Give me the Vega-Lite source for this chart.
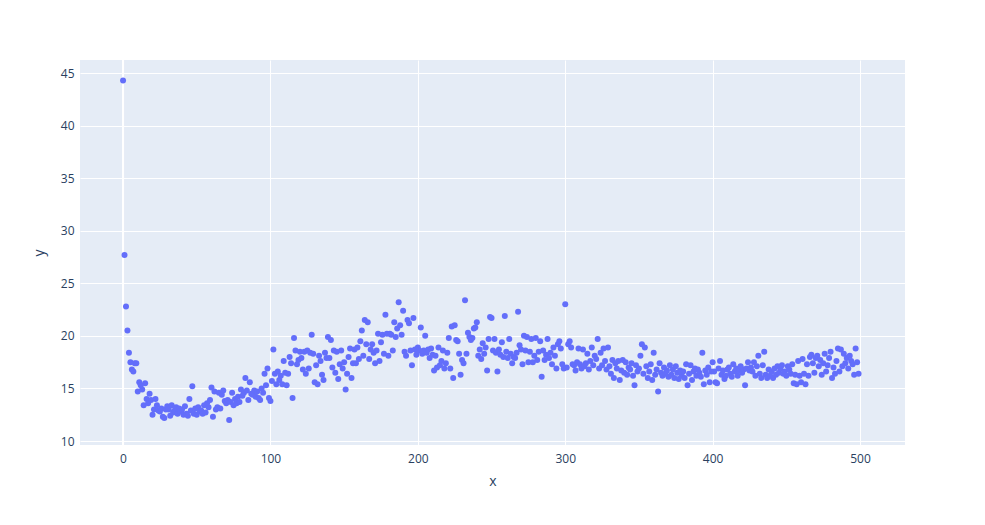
{
"$schema": "https://vega.github.io/schema/vega-lite/v6.json",
"width": 825, "height": 385,
"autosize": {"type": "none"},
"padding": {"left": 80, "top": 60, "right": 80, "bottom": 80},
"background": "white",
"config": {"view": {"fill": "#E5ECF6", "stroke": null}, "font": "Open Sans",
  "axis": {"domain": false, "ticks": false, "grid": true, "gridColor": "white", "gridWidth": 1, "labelColor": "#2a3f5f", "labelFontSize": 12, "titleColor": "#2a3f5f", "titleFontSize": 14, "titleFontWeight": "normal", "labelFont": "Open Sans", "titleFont": "Open Sans"}},
"data": {"values": [
{"x":0,"y":44.3},{"x":1,"y":27.7},{"x":2,"y":22.8},{"x":3,"y":20.5},{"x":4,"y":18.4},{"x":5,"y":17.5},{"x":6,"y":16.8},{"x":7,"y":16.6},{"x":8,"y":17.4},{"x":9,"y":17.4},
{"x":10,"y":14.7},{"x":11,"y":15.6},{"x":12,"y":15.3},{"x":13,"y":14.9},{"x":14,"y":13.4},{"x":15,"y":15.5},{"x":16,"y":14.0},{"x":17,"y":13.6},{"x":18,"y":14.5},{"x":19,"y":13.9},
{"x":20,"y":12.5},{"x":21,"y":13.0},{"x":22,"y":14.0},{"x":23,"y":13.4},{"x":24,"y":12.9},{"x":25,"y":12.8},{"x":26,"y":13.1},{"x":27,"y":12.3},{"x":28,"y":12.2},{"x":29,"y":13.0},
{"x":30,"y":13.3},{"x":31,"y":13.0},{"x":32,"y":12.4},{"x":33,"y":13.4},{"x":34,"y":12.7},{"x":35,"y":12.9},{"x":36,"y":13.2},{"x":37,"y":12.6},{"x":38,"y":13.1},{"x":39,"y":12.8},
{"x":40,"y":13.0},{"x":41,"y":12.5},{"x":42,"y":13.3},{"x":43,"y":12.6},{"x":44,"y":12.4},{"x":45,"y":14.0},{"x":46,"y":12.9},{"x":47,"y":15.2},{"x":48,"y":12.6},{"x":49,"y":13.1},
{"x":50,"y":12.5},{"x":51,"y":13.2},{"x":52,"y":12.8},{"x":53,"y":12.9},{"x":54,"y":12.6},{"x":55,"y":13.4},{"x":56,"y":12.7},{"x":57,"y":13.6},{"x":58,"y":13.2},{"x":59,"y":13.9},
{"x":60,"y":15.1},{"x":61,"y":12.3},{"x":62,"y":14.7},{"x":63,"y":13.0},{"x":64,"y":13.2},{"x":65,"y":14.6},{"x":66,"y":13.1},{"x":67,"y":14.4},{"x":68,"y":14.8},{"x":69,"y":13.8},
{"x":70,"y":13.6},{"x":71,"y":13.9},{"x":72,"y":12.0},{"x":73,"y":13.7},{"x":74,"y":14.6},{"x":75,"y":13.4},{"x":76,"y":14.0},{"x":77,"y":13.6},{"x":78,"y":14.2},{"x":79,"y":13.7},
{"x":80,"y":14.9},{"x":81,"y":14.3},{"x":82,"y":14.6},{"x":83,"y":16.0},{"x":84,"y":14.8},{"x":85,"y":13.9},{"x":86,"y":15.6},{"x":87,"y":14.5},{"x":88,"y":14.4},{"x":89,"y":14.8},
{"x":90,"y":14.2},{"x":91,"y":14.7},{"x":92,"y":14.1},{"x":93,"y":13.9},{"x":94,"y":15.0},{"x":95,"y":14.6},{"x":96,"y":16.4},{"x":97,"y":15.3},{"x":98,"y":16.9},{"x":99,"y":14.1},
{"x":100,"y":13.8},{"x":101,"y":15.7},{"x":102,"y":18.7},{"x":103,"y":16.4},{"x":104,"y":15.4},{"x":105,"y":16.6},{"x":106,"y":15.8},{"x":107,"y":16.2},{"x":108,"y":15.4},{"x":109,"y":17.6},
{"x":110,"y":16.5},{"x":111,"y":15.3},{"x":112,"y":16.4},{"x":113,"y":18.0},{"x":114,"y":17.4},{"x":115,"y":14.1},{"x":116,"y":19.8},{"x":117,"y":18.6},{"x":118,"y":17.3},{"x":119,"y":17.7},
{"x":120,"y":18.5},{"x":121,"y":17.9},{"x":122,"y":16.8},{"x":123,"y":18.5},{"x":124,"y":16.4},{"x":125,"y":18.6},{"x":126,"y":16.9},{"x":127,"y":18.4},{"x":128,"y":20.1},{"x":129,"y":18.3},
{"x":130,"y":15.6},{"x":131,"y":17.2},{"x":132,"y":15.4},{"x":133,"y":18.1},{"x":134,"y":17.6},{"x":135,"y":16.3},{"x":136,"y":15.8},{"x":137,"y":18.4},{"x":138,"y":17.9},{"x":139,"y":19.9},
{"x":140,"y":17.9},{"x":141,"y":19.6},{"x":142,"y":17.0},{"x":143,"y":18.6},{"x":144,"y":16.5},{"x":145,"y":18.5},{"x":146,"y":15.9},{"x":147,"y":17.3},{"x":148,"y":18.6},{"x":149,"y":16.9},
{"x":150,"y":17.5},{"x":151,"y":14.9},{"x":152,"y":16.4},{"x":153,"y":18.0},{"x":154,"y":18.8},{"x":155,"y":16.0},{"x":156,"y":17.4},{"x":157,"y":18.7},{"x":158,"y":17.4},{"x":159,"y":18.9},
{"x":160,"y":17.8},{"x":161,"y":19.5},{"x":162,"y":20.5},{"x":163,"y":18.1},{"x":164,"y":21.5},{"x":165,"y":19.2},{"x":166,"y":21.3},{"x":167,"y":17.8},{"x":168,"y":18.7},{"x":169,"y":19.2},
{"x":170,"y":18.4},{"x":171,"y":17.4},{"x":172,"y":18.6},{"x":173,"y":20.2},{"x":174,"y":17.6},{"x":175,"y":19.4},{"x":176,"y":20.1},{"x":177,"y":18.3},{"x":178,"y":22.0},{"x":179,"y":20.2},
{"x":180,"y":18.1},{"x":181,"y":20.2},{"x":182,"y":20.1},{"x":183,"y":18.6},{"x":184,"y":21.3},{"x":185,"y":19.9},{"x":186,"y":20.7},{"x":187,"y":23.2},{"x":188,"y":21.0},{"x":189,"y":20.1},
{"x":190,"y":22.4},{"x":191,"y":18.5},{"x":192,"y":18.1},{"x":193,"y":21.5},{"x":194,"y":21.2},{"x":195,"y":18.6},{"x":196,"y":17.2},{"x":197,"y":21.7},{"x":198,"y":18.7},{"x":199,"y":18.2},
{"x":200,"y":18.9},{"x":201,"y":18.6},{"x":202,"y":20.8},{"x":203,"y":18.3},{"x":204,"y":18.6},{"x":205,"y":20.0},{"x":206,"y":18.4},{"x":207,"y":18.7},{"x":208,"y":17.9},{"x":209,"y":18.8},
{"x":210,"y":18.2},{"x":211,"y":16.7},{"x":212,"y":18.1},{"x":213,"y":17.0},{"x":214,"y":18.9},{"x":215,"y":17.2},{"x":216,"y":17.6},{"x":217,"y":18.6},{"x":218,"y":16.9},{"x":219,"y":17.4},
{"x":220,"y":18.4},{"x":221,"y":19.8},{"x":222,"y":16.9},{"x":223,"y":20.9},{"x":224,"y":16.0},{"x":225,"y":21.0},{"x":226,"y":19.6},{"x":227,"y":19.5},{"x":228,"y":18.3},{"x":229,"y":16.3},
{"x":230,"y":17.7},{"x":231,"y":17.4},{"x":232,"y":23.4},{"x":233,"y":18.3},{"x":234,"y":20.3},{"x":235,"y":19.9},{"x":236,"y":19.6},{"x":237,"y":19.8},{"x":238,"y":20.7},{"x":239,"y":20.8},
{"x":240,"y":21.3},{"x":241,"y":18.1},{"x":242,"y":18.7},{"x":243,"y":17.8},{"x":244,"y":19.3},{"x":245,"y":18.3},{"x":246,"y":18.9},{"x":247,"y":16.7},{"x":248,"y":19.7},{"x":249,"y":21.8},
{"x":250,"y":21.7},{"x":251,"y":18.6},{"x":252,"y":19.7},{"x":253,"y":18.4},{"x":254,"y":16.6},{"x":255,"y":18.7},{"x":256,"y":18.2},{"x":257,"y":19.4},{"x":258,"y":18.0},{"x":259,"y":21.9},
{"x":260,"y":18.5},{"x":261,"y":17.9},{"x":262,"y":19.7},{"x":263,"y":18.3},{"x":264,"y":17.4},{"x":265,"y":18.0},{"x":266,"y":17.9},{"x":267,"y":18.4},{"x":268,"y":22.3},{"x":269,"y":19.1},
{"x":270,"y":18.7},{"x":271,"y":17.3},{"x":272,"y":20.0},{"x":273,"y":18.6},{"x":274,"y":19.9},{"x":275,"y":17.5},{"x":276,"y":18.5},{"x":277,"y":19.7},{"x":278,"y":17.5},{"x":279,"y":18.1},
{"x":280,"y":19.8},{"x":281,"y":17.7},{"x":282,"y":18.5},{"x":283,"y":19.5},{"x":284,"y":16.1},{"x":285,"y":18.6},{"x":286,"y":17.7},{"x":287,"y":18.2},{"x":288,"y":19.7},{"x":289,"y":17.9},
{"x":290,"y":18.4},{"x":291,"y":17.3},{"x":292,"y":18.9},{"x":293,"y":18.1},{"x":294,"y":16.9},{"x":295,"y":19.2},{"x":296,"y":19.5},{"x":297,"y":18.8},{"x":298,"y":17.3},{"x":299,"y":16.9},
{"x":300,"y":23.0},{"x":301,"y":17.0},{"x":302,"y":19.2},{"x":303,"y":19.5},{"x":304,"y":18.9},{"x":305,"y":17.3},{"x":306,"y":17.2},{"x":307,"y":16.7},{"x":308,"y":17.5},{"x":309,"y":18.8},
{"x":310,"y":17.3},{"x":311,"y":16.9},{"x":312,"y":18.7},{"x":313,"y":17.1},{"x":314,"y":17.4},{"x":315,"y":18.3},{"x":316,"y":16.8},{"x":317,"y":17.6},{"x":318,"y":18.9},{"x":319,"y":17.2},
{"x":320,"y":18.1},{"x":321,"y":17.8},{"x":322,"y":19.7},{"x":323,"y":16.9},{"x":324,"y":18.4},{"x":325,"y":17.2},{"x":326,"y":18.8},{"x":327,"y":17.6},{"x":328,"y":16.8},{"x":329,"y":18.9},
{"x":330,"y":17.1},{"x":331,"y":16.4},{"x":332,"y":17.7},{"x":333,"y":16.0},{"x":334,"y":17.4},{"x":335,"y":16.9},{"x":336,"y":17.6},{"x":337,"y":15.8},{"x":338,"y":16.7},{"x":339,"y":17.7},
{"x":340,"y":16.5},{"x":341,"y":17.5},{"x":342,"y":16.3},{"x":343,"y":17.0},{"x":344,"y":16.8},{"x":345,"y":17.4},{"x":346,"y":16.2},{"x":347,"y":15.3},{"x":348,"y":17.2},{"x":349,"y":16.6},
{"x":350,"y":16.9},{"x":351,"y":18.1},{"x":352,"y":19.2},{"x":353,"y":16.4},{"x":354,"y":18.9},{"x":355,"y":17.1},{"x":356,"y":16.0},{"x":357,"y":16.6},{"x":358,"y":17.3},{"x":359,"y":15.8},
{"x":360,"y":18.4},{"x":361,"y":16.3},{"x":362,"y":16.8},{"x":363,"y":14.7},{"x":364,"y":17.4},{"x":365,"y":16.5},{"x":366,"y":16.2},{"x":367,"y":17.0},{"x":368,"y":16.4},{"x":369,"y":16.7},
{"x":370,"y":16.1},{"x":371,"y":17.2},{"x":372,"y":16.3},{"x":373,"y":16.8},{"x":374,"y":16.0},{"x":375,"y":17.1},{"x":376,"y":16.5},{"x":377,"y":15.9},{"x":378,"y":16.7},{"x":379,"y":16.2},
{"x":380,"y":16.6},{"x":381,"y":16.0},{"x":382,"y":17.3},{"x":383,"y":15.3},{"x":384,"y":16.4},{"x":385,"y":17.2},{"x":386,"y":15.8},{"x":387,"y":16.6},{"x":388,"y":16.9},{"x":389,"y":16.2},
{"x":390,"y":16.8},{"x":391,"y":16.5},{"x":392,"y":16.1},{"x":393,"y":18.4},{"x":394,"y":15.4},{"x":395,"y":16.7},{"x":396,"y":16.3},{"x":397,"y":17.0},{"x":398,"y":15.6},{"x":399,"y":16.6},
{"x":400,"y":17.5},{"x":401,"y":16.6},{"x":402,"y":15.6},{"x":403,"y":15.5},{"x":404,"y":16.9},{"x":405,"y":17.6},{"x":406,"y":16.3},{"x":407,"y":16.7},{"x":408,"y":15.9},{"x":409,"y":16.2},
{"x":410,"y":16.8},{"x":411,"y":17.0},{"x":412,"y":16.4},{"x":413,"y":16.1},{"x":414,"y":17.3},{"x":415,"y":16.6},{"x":416,"y":16.9},{"x":417,"y":16.2},{"x":418,"y":16.7},{"x":419,"y":17.1},
{"x":420,"y":16.5},{"x":421,"y":16.8},{"x":422,"y":15.3},{"x":423,"y":16.9},{"x":424,"y":17.5},{"x":425,"y":16.7},{"x":426,"y":17.0},{"x":427,"y":16.6},{"x":428,"y":17.5},{"x":429,"y":16.2},
{"x":430,"y":17.1},{"x":431,"y":18.1},{"x":432,"y":16.4},{"x":433,"y":16.0},{"x":434,"y":17.2},{"x":435,"y":18.5},{"x":436,"y":16.3},{"x":437,"y":16.0},{"x":438,"y":16.8},{"x":439,"y":16.2},
{"x":440,"y":16.6},{"x":441,"y":16.0},{"x":442,"y":16.9},{"x":443,"y":16.3},{"x":444,"y":17.1},{"x":445,"y":16.5},{"x":446,"y":16.9},{"x":447,"y":17.2},{"x":448,"y":16.4},{"x":449,"y":16.6},
{"x":450,"y":16.2},{"x":451,"y":17.1},{"x":452,"y":16.8},{"x":453,"y":16.4},{"x":454,"y":17.3},{"x":455,"y":15.5},{"x":456,"y":16.3},{"x":457,"y":15.4},{"x":458,"y":17.6},{"x":459,"y":16.2},
{"x":460,"y":15.6},{"x":461,"y":17.8},{"x":462,"y":16.4},{"x":463,"y":15.4},{"x":464,"y":17.3},{"x":465,"y":16.2},{"x":466,"y":18.0},{"x":467,"y":18.2},{"x":468,"y":17.4},{"x":469,"y":16.5},
{"x":470,"y":17.9},{"x":471,"y":18.1},{"x":472,"y":17.1},{"x":473,"y":17.7},{"x":474,"y":16.3},{"x":475,"y":17.4},{"x":476,"y":18.3},{"x":477,"y":16.6},{"x":478,"y":17.2},{"x":479,"y":17.9},
{"x":480,"y":18.5},{"x":481,"y":16.0},{"x":482,"y":17.0},{"x":483,"y":16.4},{"x":484,"y":17.6},{"x":485,"y":18.8},{"x":486,"y":16.6},{"x":487,"y":18.7},{"x":488,"y":17.1},{"x":489,"y":18.3},
{"x":490,"y":17.4},{"x":491,"y":17.9},{"x":492,"y":16.9},{"x":493,"y":18.1},{"x":494,"y":17.6},{"x":495,"y":17.3},{"x":496,"y":16.3},{"x":497,"y":18.8},{"x":498,"y":17.5},{"x":499,"y":16.4}
]},
"layer": [
  {"mark": {"type": "rule", "color": "white", "strokeWidth": 2},
   "encoding": {"x": {"datum": 0, "type": "quantitative"}}},
  {"mark": {"type": "circle", "size": 36, "color": "#636efa", "opacity": 1},
   "encoding": {
     "x": {"field": "x", "type": "quantitative", "title": "x",
           "scale": {"domain": [-29.2, 530.5], "nice": false, "zero": false},
           "axis": {"values": [0, 100, 200, 300, 400, 500], "labelPadding": 8, "titlePadding": 10}},
     "y": {"field": "y", "type": "quantitative", "title": "y",
           "scale": {"domain": [9.62, 46.24], "nice": false, "zero": false},
           "axis": {"values": [10, 15, 20, 25, 30, 35, 40, 45], "labelPadding": 6, "titlePadding": 14}}
   }}
]
}
